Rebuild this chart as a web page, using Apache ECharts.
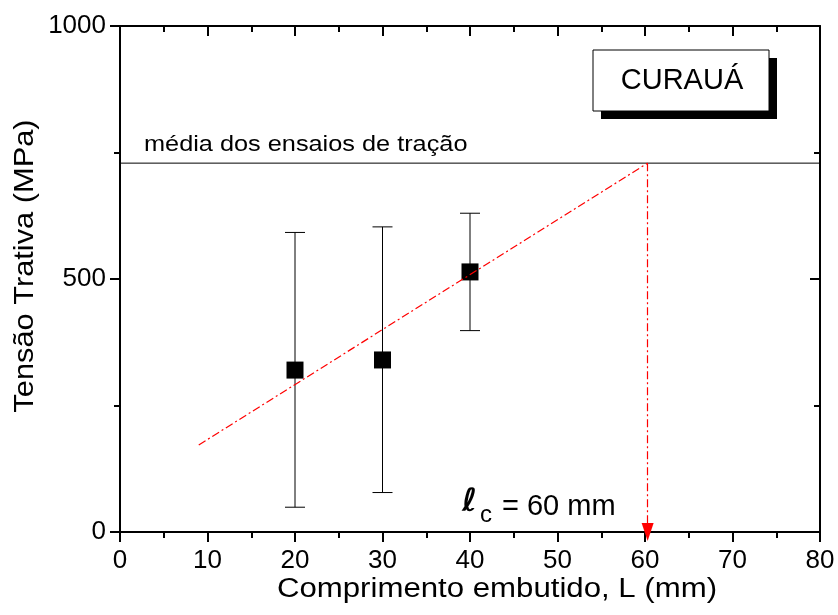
<!DOCTYPE html>
<html>
<head>
<meta charset="utf-8">
<script src="https://cdn.jsdelivr.net/npm/echarts@6/dist/echarts.min.js"></script>
<style>html,body{margin:0;padding:0;background:#fff}#c{width:838px;height:615px}</style>
</head>
<body>
<div id="c"></div>
<script>
var lengths = [20, 30, 40];
var stressMean = [320, 340, 514];
var stressLow = [49, 78, 398];
var stressHigh = [592, 603, 630];
var tensileMean = 729;
var fitLineX = [9, 60.3];
var fitLineY = [172, 729];
var criticalLength = 60.3;
var xTicks = [0, 10, 20, 30, 40, 50, 60, 70, 80];
var yTicks = [0, 500, 1000];

var F = 'Liberation Sans, Arial, sans-serif';
var chart = echarts.init(document.getElementById('c'));

var pts = lengths.map(function (x, i) { return [x, stressMean[i]]; });
var bars = lengths.map(function (x, i) { return [x, stressLow[i], stressHigh[i]]; });

function axisCommon(extra) {
  var base = {
    type: 'value',
    axisLine: { show: true, onZero: false, lineStyle: { color: '#000', width: 2 } },
    axisTick: { show: true, length: 10, lineStyle: { color: '#000', width: 2 } },
    minorTick: { show: true, splitNumber: 2, length: 6, lineStyle: { color: '#000', width: 2 } },
    splitLine: { show: false }
  };
  for (var k in extra) base[k] = extra[k];
  return base;
}

chart.setOption({
  animation: false,
  backgroundColor: '#fff',
  grid: { left: 120, right: 18, top: 26, bottom: 83, containLabel: false },
  xAxis: [
    axisCommon({ min: xTicks[0], max: xTicks[xTicks.length - 1], interval: xTicks[1] - xTicks[0], position: 'bottom',
      axisLabel: { fontFamily: F, fontSize: 26, color: '#000', margin: 16, formatter: function (v) { return String(v); } } }),
    axisCommon({ min: xTicks[0], max: xTicks[xTicks.length - 1], interval: xTicks[1] - xTicks[0], position: 'top',
      axisTick: { show: true, inside: true, length: 10, lineStyle: { color: '#000', width: 2 } },
      minorTick: { show: true, splitNumber: 2, length: 6, lineStyle: { color: '#000', width: 2 } },
      axisLabel: { show: false } })
  ],
  yAxis: [
    axisCommon({ min: yTicks[0], max: yTicks[yTicks.length - 1], interval: yTicks[1] - yTicks[0], position: 'left',
      axisLabel: { fontFamily: F, fontSize: 26, color: '#000', margin: 14, formatter: function (v) { return String(v); } } }),
    axisCommon({ min: yTicks[0], max: yTicks[yTicks.length - 1], interval: yTicks[1] - yTicks[0], position: 'right',
      axisTick: { show: true, inside: true, length: 10, lineStyle: { color: '#000', width: 2 } },
      minorTick: { show: true, splitNumber: 2, length: 6, lineStyle: { color: '#000', width: 2 } },
      axisLabel: { show: false } })
  ],
  series: [{
    type: 'line', xAxisIndex: 0, yAxisIndex: 0,
    data: [[xTicks[0], tensileMean], [xTicks[xTicks.length - 1], tensileMean]],
    symbol: 'none',
    lineStyle: { color: '#000', width: 1 }, silent: true
  }, {
    type: 'line', xAxisIndex: 0, yAxisIndex: 0,
    data: [[fitLineX[0], fitLineY[0]], [fitLineX[1], fitLineY[1]]],
    symbol: 'none',
    lineStyle: { color: '#f00', width: 1.2, type: [8, 3, 2, 3] }, silent: true,
    markLine: {
      silent: true, symbol: ['none', 'triangle'], symbolSize: [12, 18],
      label: { show: false },
      lineStyle: { color: '#f00', width: 1.2, type: [8, 3, 2, 3] },
      data: [[{ coord: [criticalLength, tensileMean] }, { coord: [criticalLength, 0] }]]
    }
  }, {
    type: 'custom', xAxisIndex: 0, yAxisIndex: 0,
    data: bars,
    renderItem: function (params, api) {
      var x = api.value(0);
      var lo = api.coord([x, api.value(1)]);
      var hi = api.coord([x, api.value(2)]);
      var hw = 10;
      var st = { stroke: '#000', lineWidth: 1 };
      return { type: 'group', children: [
        { type: 'line', shape: { x1: lo[0], y1: lo[1], x2: hi[0], y2: hi[1] }, style: st },
        { type: 'line', shape: { x1: lo[0] - hw, y1: lo[1], x2: lo[0] + hw, y2: lo[1] }, style: st },
        { type: 'line', shape: { x1: hi[0] - hw, y1: hi[1], x2: hi[0] + hw, y2: hi[1] }, style: st }
      ] };
    },
    silent: true
  }, {
    type: 'scatter', xAxisIndex: 0, yAxisIndex: 0,
    data: pts, symbol: 'rect', symbolSize: 17,
    itemStyle: { color: '#000', opacity: 1 }, silent: true
  }],
  graphic: [
    { type: 'rect', shape: { x: 601, y: 58, width: 176, height: 61 }, style: { fill: '#000' } },
    { type: 'rect', shape: { x: 593, y: 50, width: 176, height: 61 }, style: { fill: '#fff', stroke: '#000', lineWidth: 1 } },
    { type: 'text', x: 682, y: 81, style: { x: 0, y: 0, text: 'CURAUÁ', font: '29px ' + F, fill: '#000', align: 'center', verticalAlign: 'middle' } },
    { type: 'text', x: 144, y: 145, scaleX: 1.15, style: { x: 0, y: 0, text: 'média dos ensaios de tração', font: '22px ' + F, fill: '#000', verticalAlign: 'middle' } },
    { type: 'text', x: 497, y: 590, scaleX: 1.155, style: { x: 0, y: 0, text: 'Comprimento embutido, L (mm)', font: '27px ' + F, fill: '#000', align: 'center', verticalAlign: 'middle' } },
    { type: 'text', x: 25, y: 266, rotation: Math.PI / 2, scaleX: 1.1, style: { x: 0, y: 0, text: 'Tensão Trativa (MPa)', font: '28px ' + F, fill: '#000', align: 'center', verticalAlign: 'middle' } },
    { type: 'text', x: 462, y: 503, style: { x: 0, y: 0, text: 'ℓ', font: 'italic bold 32px DejaVu Sans', fill: '#000', verticalAlign: 'middle' } },
    { type: 'text', x: 480, y: 515, style: { x: 0, y: 0, text: 'c', font: '24px ' + F, fill: '#000', verticalAlign: 'middle' } },
    { type: 'text', x: 502, y: 507, style: { x: 0, y: 0, text: '= 60 mm', font: '29px ' + F, fill: '#000', verticalAlign: 'middle' } }
  ]
});
</script>
</body>
</html>
